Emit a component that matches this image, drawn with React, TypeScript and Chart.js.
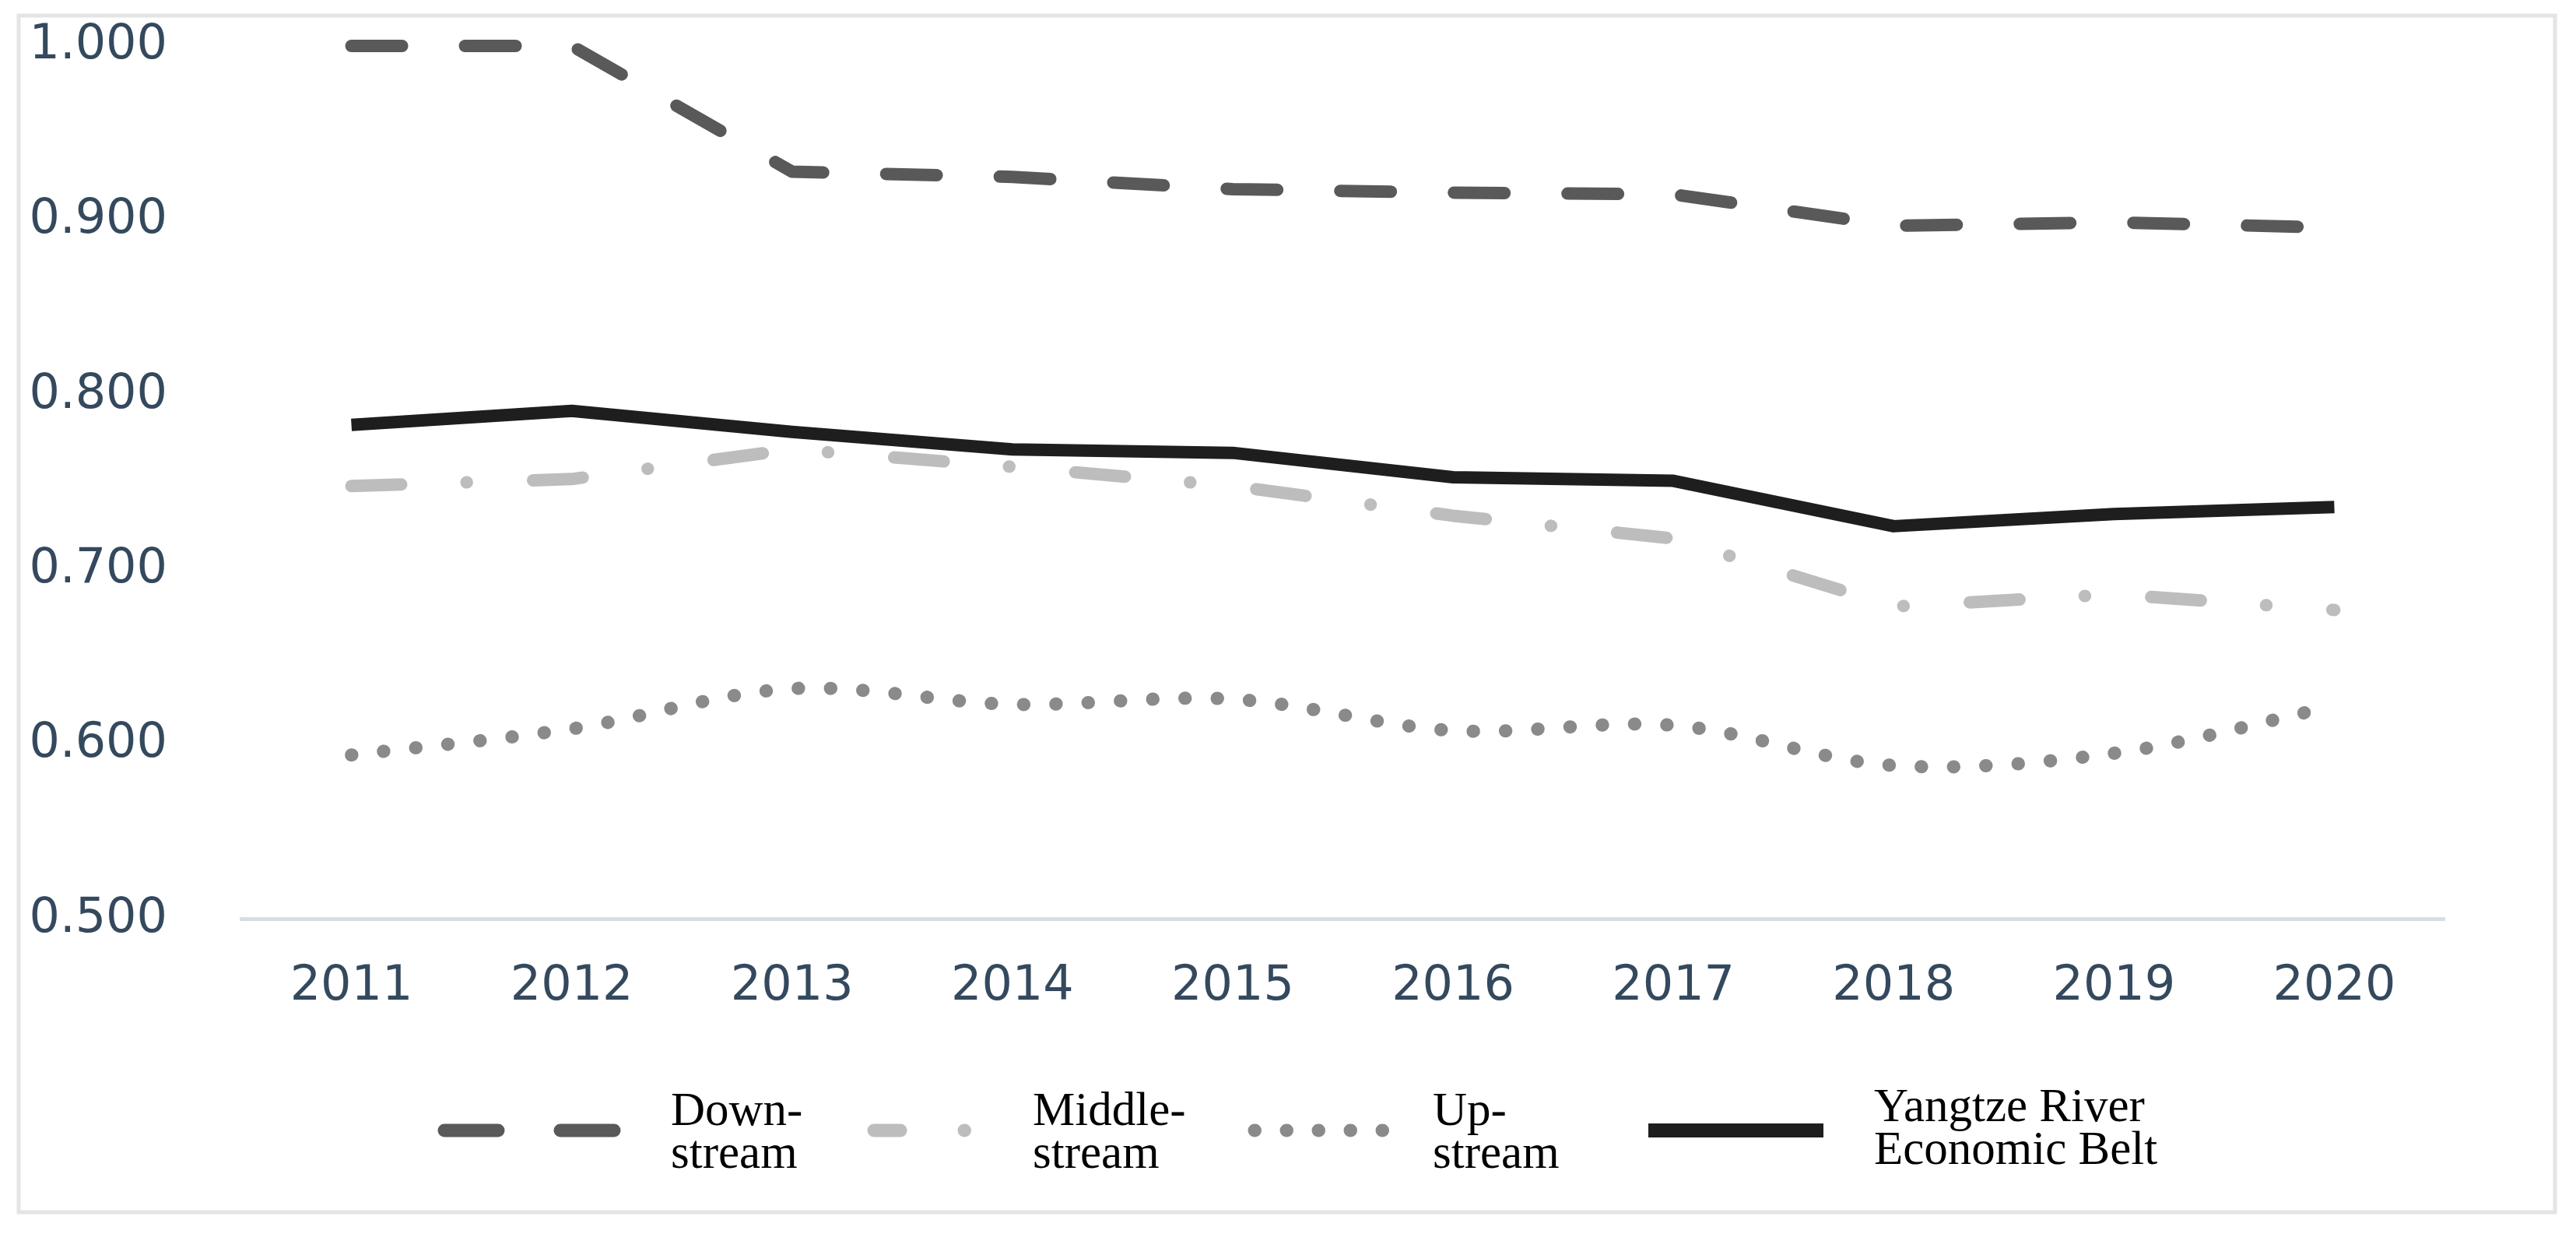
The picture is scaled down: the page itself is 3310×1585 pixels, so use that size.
import React, { useEffect, useRef } from "react";
import { Chart, registerables } from "chart.js";

Chart.register(...registerables);

// ---- data ----
const years = ["2011", "2012", "2013", "2014", "2015", "2016", "2017", "2018", "2019", "2020"];
const downstream = [1.0, 1.0, 0.928, 0.925, 0.918, 0.916, 0.915, 0.897, 0.899, 0.896];
const middlestream = [0.748, 0.752, 0.769, 0.759, 0.748, 0.731, 0.718, 0.679, 0.686, 0.677];
const upstream = [0.594, 0.609, 0.632, 0.623, 0.626, 0.608, 0.611, 0.588, 0.595, 0.622];
const economicBelt = [0.783, 0.791, 0.779, 0.769, 0.767, 0.753, 0.751, 0.725, 0.732, 0.736];
const yMin = 0.5;
const yMax = 1.0;
const yStep = 0.1;
const legendLabels = [
  ["Down-", "stream"],
  ["Middle-", "stream"],
  ["Up-", "stream"],
  ["Yangtze River", "Economic Belt"],
];

// ---- styles ----
const TICK_COLOR = "#34495E";
const TICK_FONT = { family: "DejaVu Sans", size: 62 };
const SERIES_STYLE = [
  { color: "#595959", width: 16, dash: [65, 81], cap: "round" as CanvasLineCap, tension: 0 },
  { color: "#BDBDBD", width: 16, dash: [64, 84, 0.5, 85], cap: "round" as CanvasLineCap, tension: 0 },
  { color: "#8A8A8A", width: 17, dash: [0.5, 41], cap: "round" as CanvasLineCap, tension: 0.33 },
  { color: "#1E1E1E", width: 16, dash: [] as number[], cap: "butt" as CanvasLineCap, tension: 0 },
];
const LEGEND_SAMPLES = [
  { x0: 571, x1: 789, width: 17, dash: [69, 80], cap: "round" as CanvasLineCap, tx: 862, by: [1445, 1500] },
  { x0: 1123, x1: 1240, width: 17, dash: [34, 82, 0.5, 100], cap: "round" as CanvasLineCap, tx: 1327, by: [1445, 1500] },
  { x0: 1612, x1: 1777, width: 17, dash: [0.5, 40.5], cap: "round" as CanvasLineCap, tx: 1841, by: [1445, 1500] },
  { x0: 2118, x1: 2343, width: 18, dash: [] as number[], cap: "butt" as CanvasLineCap, tx: 2408, by: [1440, 1495] },
];

const framePlugin = {
  id: "frame",
  beforeDraw(chart: any) {
    const ctx = chart.ctx as CanvasRenderingContext2D;
    ctx.save();
    ctx.fillStyle = "#ffffff";
    ctx.fillRect(0, 0, chart.width, chart.height);
    ctx.strokeStyle = "#E4E4E4";
    ctx.lineWidth = 5;
    ctx.strokeRect(24, 20, 3259, 1537);
    ctx.restore();
  },
};

const legendPlugin = {
  id: "customLegend",
  afterDraw(chart: any) {
    const ctx = chart.ctx as CanvasRenderingContext2D;
    const cy = 1452;
    ctx.save();
    chart.data.datasets.forEach((ds: any, i: number) => {
      const s = LEGEND_SAMPLES[i];
      ctx.strokeStyle = ds.borderColor;
      ctx.lineWidth = s.width;
      ctx.lineCap = s.cap;
      ctx.setLineDash(s.dash);
      ctx.beginPath();
      ctx.moveTo(s.x0, cy);
      ctx.lineTo(s.x1, cy);
      ctx.stroke();
      ctx.setLineDash([]);
      ctx.fillStyle = "#000000";
      ctx.font = "61px 'Liberation Serif'";
      ctx.textAlign = "left";
      ctx.textBaseline = "alphabetic";
      legendLabels[i].forEach((line, k) => ctx.fillText(line, s.tx, s.by[k]));
    });
    ctx.restore();
  },
};

export default function App() {
  const ref = useRef<HTMLCanvasElement>(null);

  useEffect(() => {
    if (!ref.current) return;
    const series = [downstream, middlestream, upstream, economicBelt];
    const chart = new Chart(ref.current, {
      type: "line",
      data: {
        labels: years,
        datasets: series.map((data, i) => ({
          label: legendLabels[i].join(" "),
          data,
          borderColor: SERIES_STYLE[i].color,
          backgroundColor: SERIES_STYLE[i].color,
          borderWidth: SERIES_STYLE[i].width,
          borderDash: SERIES_STYLE[i].dash,
          borderCapStyle: SERIES_STYLE[i].cap,
          borderJoinStyle: "round" as CanvasLineJoin,
          tension: SERIES_STYLE[i].tension,
          pointRadius: 0,
          pointHoverRadius: 0,
          fill: false,
          clip: false as any,
          order: i === 3 ? -1 : i,
        })),
      },
      options: {
        responsive: false,
        animation: false,
        devicePixelRatio: 1,
        layout: { padding: { left: 10, right: 169, top: 59, bottom: 230 } },
        plugins: {
          legend: { display: false },
          tooltip: { enabled: false },
        },
        scales: {
          x: {
            type: "category",
            offset: true,
            grid: { display: false, drawTicks: false },
            border: { display: true, color: "#D6DEE5", width: 5 },
            ticks: {
              color: TICK_COLOR,
              font: TICK_FONT,
              padding: 50,
              maxRotation: 0,
              autoSkip: false,
            },
          },
          y: {
            min: yMin,
            max: yMax,
            grid: { display: false, drawTicks: false },
            border: { display: false },
            ticks: {
              stepSize: yStep,
              color: TICK_COLOR,
              font: TICK_FONT,
              padding: 95,
              callback: (v: any) => Number(v).toFixed(3),
            },
            afterFit: (scale: any) => {
              scale.width = 300;
              scale.paddingTop = 36;
              scale.paddingBottom = 36;
            },
          },
        },
      },
      plugins: [framePlugin, legendPlugin],
    });
    return () => chart.destroy();
  }, []);

  return (
    <div style={{ position: "fixed", left: 0, top: 0, width: 3310, height: 1585, background: "#fff" }}>
      <canvas ref={ref} width={3310} height={1585} style={{ display: "block", width: 3310, height: 1585 }} />
    </div>
  );
}
